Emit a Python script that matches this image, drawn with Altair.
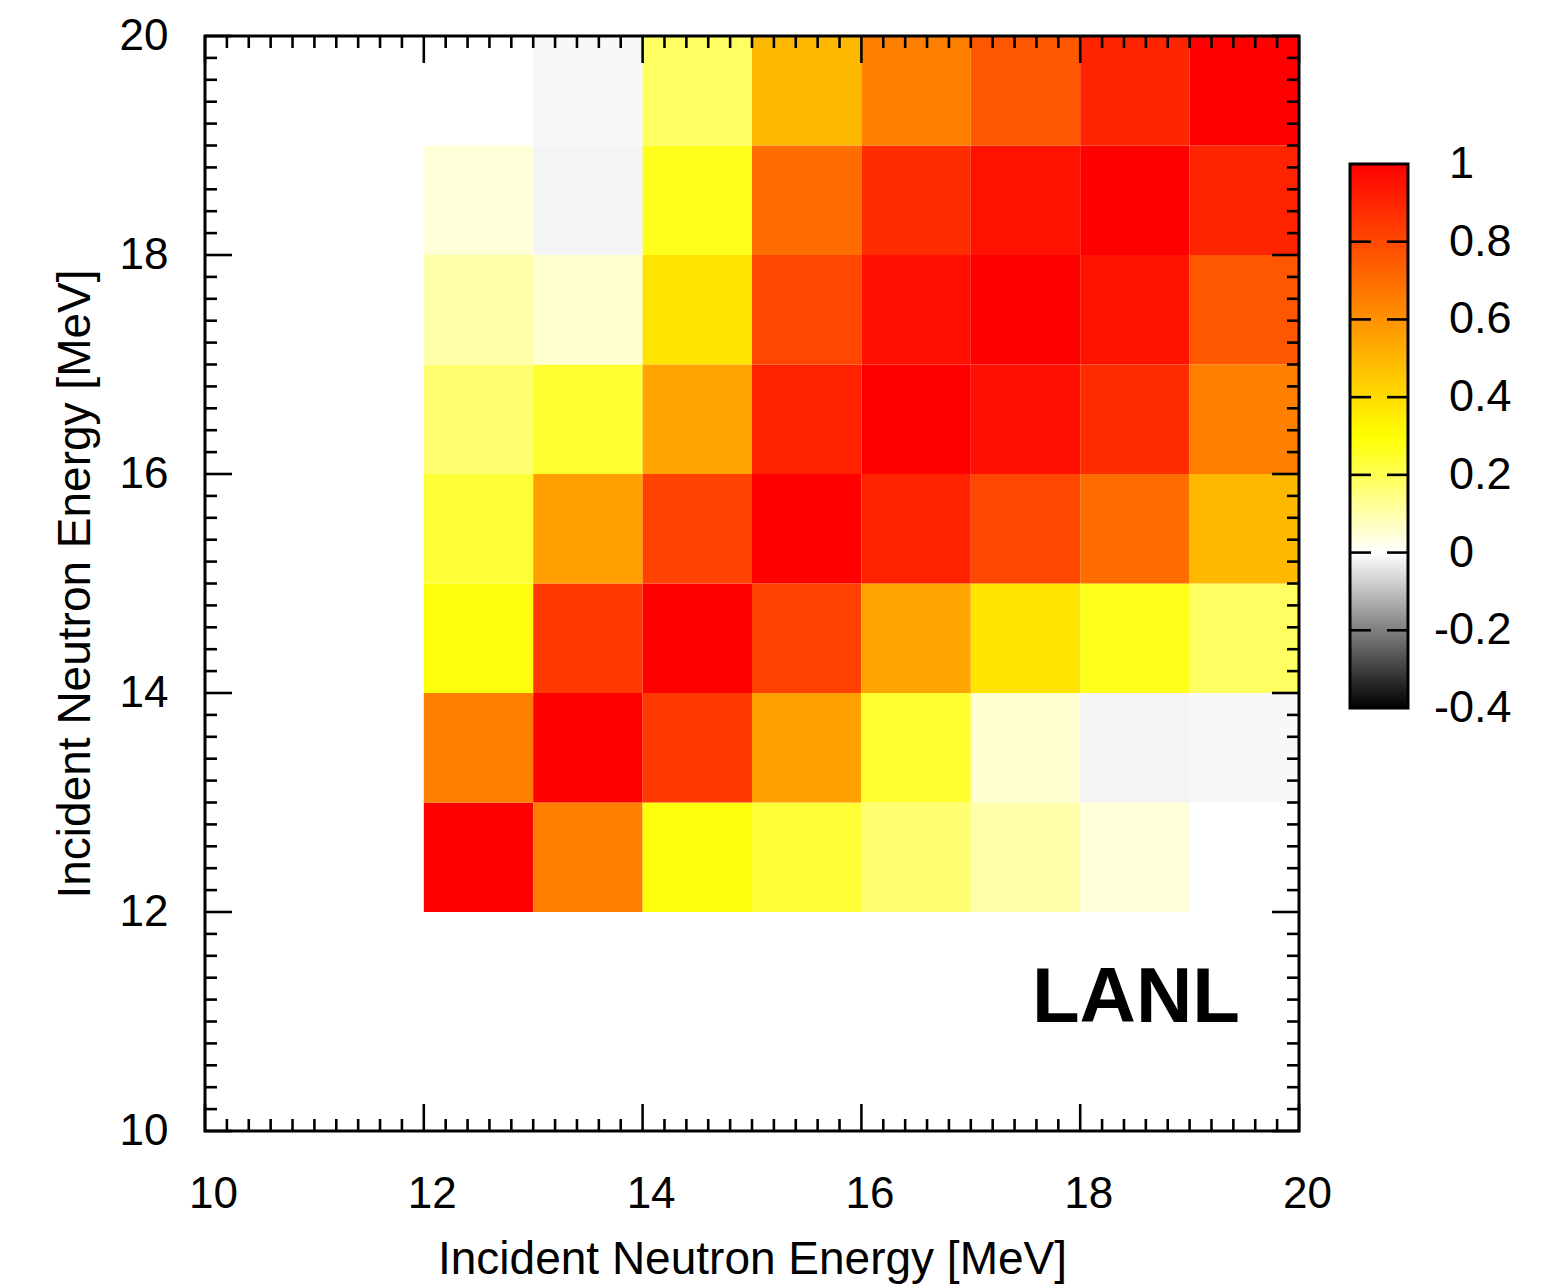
import altair as alt
import pandas as pd

FONT = "Liberation Sans"

# Energy bins: lower edges (MeV) and common width
bin_lo = [12, 13, 14, 15, 16, 17, 18, 19]
bin_width = 1.0

# Correlation matrix, rows = y bin, columns = x bin, both ordered as bin_lo
corr = [
    [1.000, 0.650, 0.285, 0.234, 0.168, 0.100, 0.046, 0.000],
    [0.650, 1.000, 0.850, 0.560, 0.245, 0.055, -0.018, -0.011],
    [0.285, 0.850, 1.000, 0.820, 0.550, 0.374, 0.265, 0.185],
    [0.234, 0.560, 0.820, 1.000, 0.910, 0.805, 0.700, 0.495],
    [0.168, 0.245, 0.550, 0.910, 1.000, 0.955, 0.880, 0.650],
    [0.100, 0.055, 0.374, 0.805, 0.955, 1.000, 0.950, 0.760],
    [0.046, -0.018, 0.265, 0.700, 0.880, 0.950, 1.000, 0.900],
    [0.000, -0.011, 0.185, 0.495, 0.650, 0.760, 0.900, 1.000],
]

axis_major = [10, 12, 14, 16, 18, 20]
axis_minor = [round(10 + 0.2 * k, 1) for k in range(51) if k % 10 != 0]

cbar_ticks = [-0.4, -0.2, 0.0, 0.2, 0.4, 0.6, 0.8, 1.0]
cbar_labels = ["-0.4", "-0.2", "0", "0.2", "0.4", "0.6", "0.8", "1"]

W, H = 1094, 1095
CB_W = 58
MAJOR_LEN, MINOR_LEN = 27, 12
TITLE = "Incident Neutron Energy [MeV]"
LABEL_SIZE, TITLE_SIZE, CB_LABEL_SIZE = 44, 46, 45

color_scale = alt.Scale(
    type="linear",
    domain=[-0.4, 0.0, 0.3, 1.0],
    range=["#000000", "#ffffff", "#ffff00", "#ff0000"],
    interpolate="rgb",
    clamp=True,
)
e_scale = alt.Scale(domain=[10, 20], nice=False, zero=False)

cells = pd.DataFrame(
    [
        {"x": xl, "x2": xl + bin_width, "y": yl, "y2": yl + bin_width, "r": corr[j][i]}
        for j, yl in enumerate(bin_lo)
        for i, xl in enumerate(bin_lo)
    ]
)

axis_common = dict(
    values=axis_major,
    ticks=False,
    domain=False,
    grid=False,
    labelFlush=False,
    labelFont=FONT,
    labelFontSize=LABEL_SIZE,
    labelColor="black",
    titleFont=FONT,
    titleFontSize=TITLE_SIZE,
    titleFontWeight="normal",
    titleColor="black",
    format="d",
    title=TITLE,
)
x_axis = alt.Axis(labelPadding=41, labelOffset=8, titlePadding=21, **axis_common)
y_axis = alt.Axis(labelPadding=37, titlePadding=20, **axis_common)

X = alt.X("x:Q", scale=e_scale, axis=x_axis)
Y = alt.Y("y:Q", scale=e_scale, axis=y_axis)

heat = alt.Chart(cells).mark_rect().encode(
    x=X, x2="x2:Q", y=Y, y2="y2:Q",
    color=alt.Color("r:Q", scale=color_scale, legend=None),
)


def edge_ticks(vals, length):
    """Inward-pointing tick marks on all four sides of the frame."""
    df_x = pd.DataFrame({"x": vals})
    df_y = pd.DataFrame({"y": vals})
    rule = dict(color="black", strokeWidth=2.6)
    bottom = alt.Chart(df_x).mark_rule(**rule).encode(
        x=X, y=alt.value(H), y2=alt.value(H - length))
    top = alt.Chart(df_x).mark_rule(**rule).encode(
        x=X, y=alt.value(0), y2=alt.value(length))
    left = alt.Chart(df_y).mark_rule(**rule).encode(
        y=Y, x=alt.value(0), x2=alt.value(length))
    right = alt.Chart(df_y).mark_rule(**rule).encode(
        y=Y, x=alt.value(W), x2=alt.value(W - length))
    return [bottom, top, left, right]


frame = alt.Chart(pd.DataFrame({"a": [0]})).mark_rect(
    fillOpacity=0, stroke="black", strokeWidth=3
).encode(x=alt.value(0), x2=alt.value(W), y=alt.value(0), y2=alt.value(H))

tag = alt.Chart(pd.DataFrame({"x": [19.46], "y": [11.0]})).mark_text(
    text="LANL", font=FONT, fontSize=78, fontWeight="bold",
    align="right", baseline="alphabetic", color="black",
).encode(x=X, y=Y)

main = alt.layer(
    heat, *edge_ticks(axis_minor, MINOR_LEN), *edge_ticks(axis_major, MAJOR_LEN), frame, tag
).properties(width=W, height=H)

# Colour bar: thin overlapping stripes across the colour scale's range,
# framed, with dashes and labels
steps = 280
lo_vals = [round(-0.4 + 1.4 * k / steps, 5) for k in range(steps)]
stripes = pd.DataFrame({
    "lo": lo_vals,
    "hi": [min(v + 2.5 * 1.4 / steps, 1.0) for v in lo_vals],
    "mid": [v + 0.7 / steps for v in lo_vals],
})
cb_scale = alt.Scale(domain=[-1.4886, 1.3294], nice=False, zero=False)

cb_fill = alt.Chart(stripes).mark_rect().encode(
    y=alt.Y("lo:Q", scale=cb_scale, axis=None),
    y2="hi:Q",
    x=alt.value(0), x2=alt.value(CB_W),
    color=alt.Color("mid:Q", scale=color_scale, legend=None),
)
cb_ticks = pd.DataFrame({"t": cbar_ticks, "lab": cbar_labels})
inner = cb_ticks[(cb_ticks.t > -0.4) & (cb_ticks.t < 1.0)]
cb_dash_l = alt.Chart(inner).mark_rule(color="black", strokeWidth=2.6).encode(
    y=alt.Y("t:Q", scale=cb_scale, axis=None), x=alt.value(0), x2=alt.value(21))
cb_dash_r = alt.Chart(inner).mark_rule(color="black", strokeWidth=2.6).encode(
    y=alt.Y("t:Q", scale=cb_scale, axis=None), x=alt.value(CB_W - 21), x2=alt.value(CB_W))
cb_border = alt.Chart(pd.DataFrame({"lo": [-0.4], "hi": [1.0]})).mark_rect(
    fillOpacity=0, stroke="black", strokeWidth=3
).encode(
    y=alt.Y("lo:Q", scale=cb_scale, axis=None),
    y2="hi:Q",
    x=alt.value(0), x2=alt.value(CB_W),
)

# Labels: digits line up, a leading minus sign hangs to the left
LABEL_X = CB_W + 41
MINUS_W = 15


def cb_text(df, x0):
    return alt.Chart(df).mark_text(
        font=FONT, fontSize=CB_LABEL_SIZE, align="left", baseline="middle", color="black"
    ).encode(
        y=alt.Y("t:Q", scale=cb_scale, axis=None),
        x=alt.value(x0),
        text="lab:N",
    )


cb_pos = cb_text(cb_ticks[cb_ticks.t >= 0], LABEL_X)
cb_neg = cb_text(cb_ticks[cb_ticks.t < 0], LABEL_X - MINUS_W)

cbar = alt.layer(cb_fill, cb_dash_l, cb_dash_r, cb_border, cb_pos, cb_neg).properties(
    width=CB_W, height=H)

chart = (
    alt.hconcat(main, cbar, spacing=51, bounds="flush")
    .resolve_scale(color="independent", x="independent", y="independent")
    .configure_view(stroke=None)
    .properties(padding={"left": 52, "top": 14, "right": 5, "bottom": 5},
                background="white")
)

chart.save("out.html", embed_options={"renderer": "svg", "actions": False})
